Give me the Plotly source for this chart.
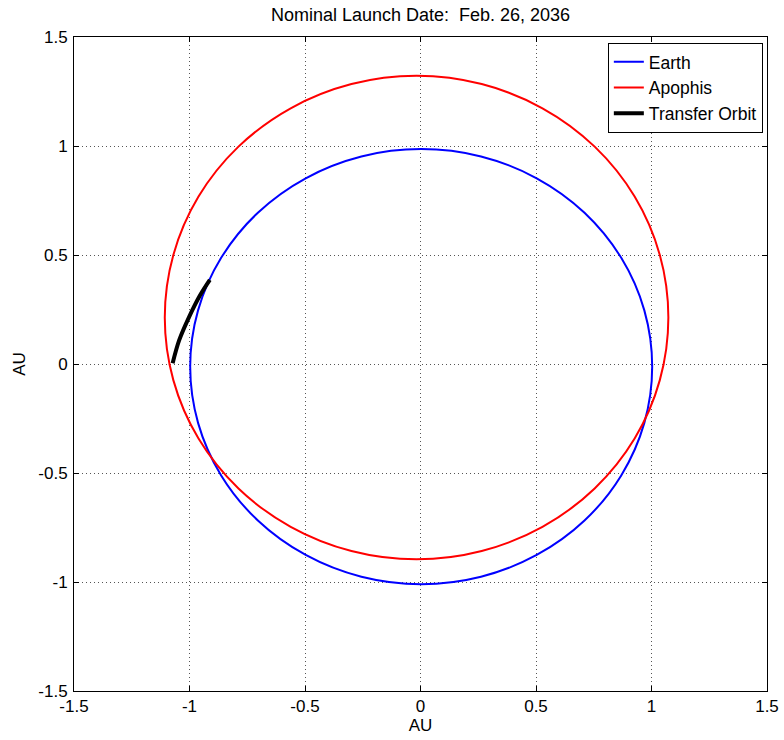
import plotly.graph_objects as go

# Orbit points (AU)
earth_x = [1.003, 0.969, 0.869, 0.710, 0.503, 0.262, 0.003, -0.256, -0.497, -0.704, -0.863, -0.963,
           -0.997, -0.963, -0.863, -0.704, -0.497, -0.256, 0.003, 0.262, 0.503, 0.710, 0.869, 0.969, 1.003]
earth_y = [-0.012, 0.246, 0.487, 0.694, 0.852, 0.952, 0.986, 0.952, 0.852, 0.694, 0.487, 0.246,
           -0.012, -0.270, -0.511, -0.718, -0.876, -0.976, -1.010, -0.976, -0.876, -0.718, -0.511, -0.270, -0.012]

apophis_x = [1.073, 1.036, 0.927, 0.754, 0.528, 0.265, -0.017, -0.299, -0.562, -0.788, -0.961, -1.070,
             -1.107, -1.070, -0.961, -0.788, -0.562, -0.299, -0.017, 0.265, 0.528, 0.754, 0.927, 1.036, 1.073]
apophis_y = [0.213, 0.500, 0.768, 0.997, 1.173, 1.284, 1.322, 1.284, 1.173, 0.997, 0.768, 0.500,
             0.213, -0.074, -0.342, -0.571, -0.747, -0.858, -0.896, -0.858, -0.747, -0.571, -0.342, -0.074, 0.213]

transfer_x = [-1.073, -1.045, -1.002, -0.955, -0.912]
transfer_y = [0.003, 0.108, 0.215, 0.314, 0.386]

tick_vals = [-1.5, -1, -0.5, 0, 0.5, 1, 1.5]
tick_text = ["-1.5", "-1", "-0.5", "0", "0.5", "1", "1.5"]

FONT = "Liberation Sans, Arial, Helvetica, sans-serif"

fig = go.Figure()
fig.add_trace(go.Scatter(x=earth_x, y=earth_y, mode="lines", name="Earth",
                         line=dict(color="#0000ff", width=2, shape="spline")))
fig.add_trace(go.Scatter(x=apophis_x, y=apophis_y, mode="lines", name="Apophis",
                         line=dict(color="#ff0000", width=2, shape="spline")))
fig.add_trace(go.Scatter(x=transfer_x, y=transfer_y, mode="lines", name="Transfer Orbit",
                         line=dict(color="#000000", width=4, shape="spline")))

axis_common = dict(
    range=[-1.5, 1.5], tickvals=tick_vals, ticktext=tick_text,
    showgrid=True, gridcolor="#555555", griddash="1px,3px", gridwidth=1,
    zeroline=False, showline=True, linecolor="#000000", linewidth=1,
    mirror="ticks", ticks="inside", ticklen=5, tickcolor="#000000",
    tickfont=dict(family=FONT, size=17, color="#000000"),
    automargin=False,
)

fig.update_layout(
    width=784, height=740,
    margin=dict(l=74, r=17, t=37, b=49),
    paper_bgcolor="white", plot_bgcolor="white",
    font=dict(family=FONT, size=17, color="#000000"),
    title=dict(text="Nominal Launch Date:  Feb. 26, 2036", x=0.5, xref="paper", xanchor="center",
               y=1 - 15 / 740, yref="container", yanchor="middle",
               font=dict(family=FONT, size=18, color="#000000")),
    xaxis=dict(axis_common, title=dict(text="AU", standoff=0, font=dict(family=FONT, size=17)),
               ticklabelstandoff=0),
    yaxis=dict(axis_common, title=dict(text="AU", standoff=8, font=dict(family=FONT, size=17)),
               ticklabelstandoff=2),
    legend=dict(x=0.994, y=0.991, xanchor="right", yanchor="top",
                bgcolor="white", bordercolor="#000000", borderwidth=1,
                font=dict(family=FONT, size=17.5, color="#000000"),
                tracegroupgap=0),
    showlegend=True,
)

fig.write_html("out.html")
